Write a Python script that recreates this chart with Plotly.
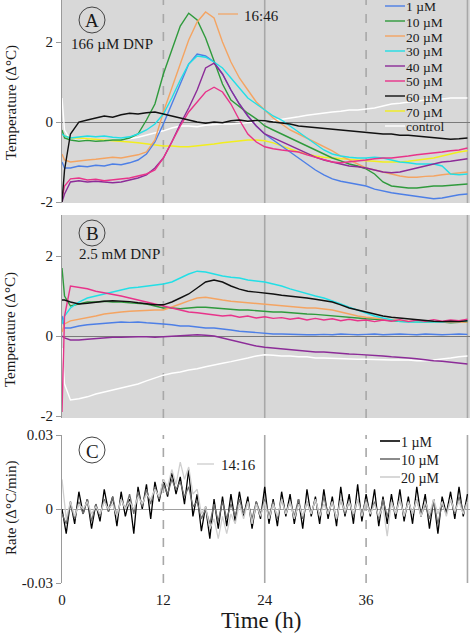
import plotly.graph_objects as go

# ---------------- data ----------------
HOURS_AB = [0, 0.3, 1, 2, 3, 4, 5, 6, 7, 8, 9, 10, 11, 12, 13, 14, 15, 16, 17, 18, 19, 20,
            21, 22, 23, 24, 25, 26, 27, 28, 29, 30, 31, 32, 33, 34, 35, 36, 37, 38, 39, 40,
            41, 42, 43, 44, 45, 46, 47, 48]

SERIES_NAMES = ["1 µM", "10 µM", "20 µM", "30 µM", "40 µM", "50 µM", "60 µM", "70 µM", "control"]
SERIES_COLORS = ["#4d7fe6", "#2f9a3c", "#f4a462", "#22dfe6", "#8c2c98", "#e8338a", "#111111", "#f2ee1e", "#ffffff"]

A_1uM = [-1.0, -1.15, -1.15, -1.1, -1.12, -1.08, -1.1, -1.05, -1.07, -1.02, -0.95, -0.8, -0.5, -0.05,
         0.45, 0.95, 1.45, 1.7, 1.65, 1.5, 1.2, 0.8, 0.45, 0.15, -0.1, -0.3, -0.45, -0.6, -0.75, -0.9,
         -1.05, -1.2, -1.32, -1.42, -1.48, -1.52, -1.55, -1.6, -1.68, -1.73, -1.77, -1.8, -1.83, -1.85,
         -1.88, -1.92, -1.9, -1.86, -1.82, -1.8]
A_10uM = [-0.2, -0.4, -0.45, -0.48, -0.46, -0.48, -0.47, -0.45, -0.45, -0.4, -0.3, 0.05, 0.45, 1.2,
          1.8, 2.4, 2.72, 2.55, 2.1, 1.5, 0.95, 0.55, 0.38, 0.22, 0.08, -0.1, -0.2, -0.3, -0.4, -0.5,
          -0.6, -0.7, -0.8, -0.9, -0.97, -1.05, -1.1, -1.17, -1.3, -1.5, -1.6, -1.63, -1.65, -1.65,
          -1.62, -1.6, -1.6, -1.58, -1.56, -1.55]
A_20uM = [-0.8, -0.95, -1.0, -0.97, -0.95, -0.93, -0.9, -0.88, -0.9, -0.86, -0.82, -0.75, -0.45, 0.25,
          0.85, 1.5, 2.05, 2.5, 2.75, 2.6, 2.0, 1.5, 1.1, 0.8, 0.5, 0.3, 0.1, -0.05, -0.2, -0.3, -0.4,
          -0.5, -0.6, -0.72, -0.85, -0.95, -1.05, -1.15, -1.2, -1.25, -1.3, -1.35, -1.38, -1.38, -1.36,
          -1.35, -1.32, -1.3, -1.28, -1.25]
A_30uM = [-0.3, -0.35, -0.4, -0.38, -0.35, -0.37, -0.35, -0.38, -0.4, -0.37, -0.3, -0.2, -0.05, 0.2,
          0.6, 1.05, 1.45, 1.65, 1.62, 1.5, 1.35, 1.1, 0.85, 0.6, 0.45, 0.3, 0.15, 0.05, -0.1, -0.25,
          -0.4, -0.55, -0.7, -0.8, -0.85, -0.88, -0.9, -0.9, -0.88, -0.9, -0.95, -1.0, -1.02, -1.05,
          -1.05, -1.05, -1.1, -1.3, -1.32, -1.3]
A_40uM = [-2.0, -1.8, -1.5, -1.47, -1.5, -1.48, -1.5, -1.52, -1.5, -1.45, -1.4, -1.32, -1.15, -0.9,
          -0.5, -0.05, 0.35, 0.8, 1.35, 1.47, 1.2, 0.8, 0.45, 0.15, -0.1, -0.3, -0.4, -0.5, -0.6, -0.7,
          -0.8, -0.88, -0.95, -1.0, -1.05, -1.1, -1.12, -1.15, -1.2, -1.25, -1.27, -1.25, -1.2, -1.15,
          -1.1, -1.05, -1.0, -0.98, -0.95, -0.92]
A_50uM = [-1.9, -1.6, -1.42, -1.4, -1.45, -1.43, -1.47, -1.45, -1.42, -1.4, -1.35, -1.3, -1.2, -0.9,
          -0.5, -0.1, 0.25, 0.5, 0.75, 0.87, 0.75, 0.45, 0.05, -0.3, -0.5, -0.62, -0.67, -0.7, -0.72,
          -0.75, -0.82, -0.88, -0.95, -1.0, -1.02, -1.0, -0.98, -0.95, -0.92, -0.9, -0.9, -0.88, -0.85,
          -0.82, -0.8, -0.78, -0.75, -0.72, -0.7, -0.65]
A_60uM = [-2.0, -1.2, -0.3, 0.0, 0.05, 0.1, 0.15, 0.12, 0.18, 0.22, 0.2, 0.23, 0.25, 0.2, 0.15, 0.1,
          0.05, 0.0, -0.03, 0.0, -0.02, 0.03, 0.05, 0.02, 0.04, 0.03, 0.0, -0.02, -0.05, -0.1, -0.12,
          -0.15, -0.17, -0.18, -0.2, -0.22, -0.25, -0.26, -0.28, -0.3, -0.3, -0.33, -0.33, -0.35,
          -0.37, -0.38, -0.4, -0.43, -0.42, -0.4]
A_70uM = [-0.3, -0.35, -0.4, -0.4, -0.42, -0.43, -0.45, -0.47, -0.48, -0.5, -0.52, -0.55, -0.57, -0.6,
          -0.6, -0.62, -0.62, -0.6, -0.58, -0.55, -0.52, -0.5, -0.48, -0.45, -0.45, -0.47, -0.52, -0.6,
          -0.68, -0.75, -0.8, -0.85, -0.88, -0.9, -0.92, -0.93, -0.95, -0.97, -0.98, -1.0, -1.0, -1.0,
          -0.98, -0.95, -0.92, -0.9, -0.85, -0.8, -0.75, -0.72]
A_control = [0.6, -0.2, -0.45, -0.47, -0.45, -0.46, -0.45, -0.44, -0.43, -0.42, -0.38, -0.33, -0.28,
             -0.22, -0.15, -0.1, -0.1, -0.12, -0.08, -0.06, -0.05, -0.05, -0.03, -0.02, 0.0, 0.0, 0.03,
             0.07, 0.1, 0.13, 0.17, 0.2, 0.23, 0.25, 0.27, 0.3, 0.3, 0.32, 0.35, 0.4, 0.45, 0.47, 0.5,
             0.52, 0.55, 0.55, 0.58, 0.6, 0.6, 0.6]

B_1uM = [0.5, 0.2, 0.2, 0.25, 0.28, 0.3, 0.32, 0.33, 0.35, 0.34, 0.35, 0.33, 0.32, 0.3, 0.28, 0.25,
         0.25, 0.22, 0.2, 0.2, 0.18, 0.15, 0.12, 0.1, 0.08, 0.06, 0.05, 0.05, 0.04, 0.04, 0.03, 0.03,
         0.04, 0.03, 0.05, 0.04, 0.03, 0.04, 0.05, 0.03, 0.04, 0.05, 0.04, 0.03, 0.05, 0.04, 0.03, 0.04,
         0.05, 0.04]
B_10uM = [1.7, 1.0, 0.75, 0.8, 0.85, 0.85, 0.87, 0.85, 0.85, 0.83, 0.82, 0.8, 0.75, 0.7, 0.7, 0.68,
          0.7, 0.72, 0.72, 0.7, 0.68, 0.67, 0.65, 0.65, 0.63, 0.62, 0.6, 0.6, 0.58, 0.56, 0.55, 0.54,
          0.52, 0.5, 0.48, 0.46, 0.45, 0.43, 0.42, 0.4, 0.38, 0.37, 0.36, 0.35, 0.35, 0.34, 0.35, 0.33,
          0.34, 0.35]
B_20uM = [0.1, 0.3, 0.38, 0.42, 0.45, 0.5, 0.55, 0.58, 0.6, 0.62, 0.63, 0.65, 0.65, 0.65, 0.72, 0.8,
          0.88, 0.95, 0.97, 0.93, 0.9, 0.87, 0.85, 0.83, 0.82, 0.8, 0.78, 0.75, 0.73, 0.72, 0.7, 0.7,
          0.68, 0.65, 0.6, 0.55, 0.5, 0.47, 0.45, 0.42, 0.4, 0.38, 0.37, 0.36, 0.35, 0.35, 0.34, 0.35,
          0.34, 0.35]
B_30uM = [0.3, 0.5, 0.7, 0.85, 0.95, 1.0, 1.05, 1.1, 1.15, 1.2, 1.22, 1.25, 1.27, 1.3, 1.35, 1.45,
          1.55, 1.62, 1.6, 1.55, 1.5, 1.47, 1.45, 1.4, 1.38, 1.35, 1.3, 1.25, 1.18, 1.12, 1.05, 1.0,
          0.95, 0.88, 0.8, 0.72, 0.65, 0.57, 0.5, 0.45, 0.4, 0.36, 0.35, 0.35, 0.35, 0.36, 0.35, 0.37,
          0.36, 0.38]
B_40uM = [0.0, -0.05, -0.1, -0.1, -0.08, -0.06, -0.05, -0.03, -0.03, -0.02, -0.02, -0.02, -0.03,
          -0.02, -0.01, 0.0, 0.02, 0.03, 0.02, 0.0, -0.05, -0.1, -0.15, -0.2, -0.25, -0.28, -0.3,
          -0.32, -0.35, -0.37, -0.38, -0.4, -0.4, -0.42, -0.43, -0.45, -0.46, -0.47, -0.49, -0.5,
          -0.52, -0.53, -0.55, -0.57, -0.6, -0.62, -0.63, -0.65, -0.68, -0.7]
B_50uM = [-1.9, 0.5, 1.25, 1.22, 1.18, 1.12, 1.08, 1.05, 1.0, 0.95, 0.9, 0.85, 0.8, 0.75, 0.7, 0.65,
          0.6, 0.58, 0.55, 0.52, 0.5, 0.52, 0.47, 0.5, 0.45, 0.48, 0.44, 0.46, 0.42, 0.45, 0.4, 0.44,
          0.4, 0.43, 0.38, 0.42, 0.38, 0.4, 0.36, 0.4, 0.37, 0.41, 0.36, 0.4, 0.37, 0.41, 0.37, 0.4,
          0.38, 0.42]
B_60uM = [0.9, 0.9, 0.85, 0.8, 0.82, 0.85, 0.87, 0.88, 0.87, 0.86, 0.83, 0.8, 0.78, 0.78, 0.85, 0.95,
          1.05, 1.2, 1.35, 1.4, 1.35, 1.25, 1.17, 1.12, 1.1, 1.08, 1.05, 1.02, 1.0, 0.97, 0.95, 0.92,
          0.88, 0.85, 0.78, 0.7, 0.65, 0.6, 0.55, 0.5, 0.47, 0.45, 0.42, 0.4, 0.38, 0.37, 0.36, 0.37,
          0.36, 0.38]
B_control = [-0.3, -1.2, -1.6, -1.57, -1.52, -1.45, -1.4, -1.35, -1.3, -1.25, -1.2, -1.12, -1.05,
             -0.98, -0.93, -0.9, -0.85, -0.82, -0.77, -0.72, -0.68, -0.64, -0.6, -0.55, -0.5, -0.47,
             -0.48, -0.5, -0.5, -0.52, -0.52, -0.55, -0.55, -0.56, -0.57, -0.58, -0.58, -0.58, -0.59,
             -0.6, -0.6, -0.6, -0.6, -0.62, -0.62, -0.6, -0.58, -0.55, -0.52, -0.5]

HOURS_C = [0, 0.5, 1, 1.5, 2, 2.5, 3, 3.5, 4, 4.5, 5, 5.5, 6, 6.5, 7, 7.5, 8, 8.5, 9, 9.5, 10, 10.5,
           11, 11.5, 12, 12.5, 13, 13.5, 14, 14.5, 15, 15.5, 16, 16.5, 17, 17.5, 18, 18.5, 19, 19.5,
           20, 20.5, 21, 21.5, 22, 22.5, 23, 23.5, 24, 24.5, 25, 25.5, 26, 26.5, 27, 27.5, 28, 28.5,
           29, 29.5, 30, 30.5, 31, 31.5, 32, 32.5, 33, 33.5, 34, 34.5, 35, 35.5, 36, 36.5, 37, 37.5,
           38, 38.5, 39, 39.5, 40, 40.5, 41, 41.5, 42, 42.5, 43, 43.5, 44, 44.5, 45, 45.5, 46, 46.5,
           47, 47.5, 48]
C_NAMES = ["1 µM", "10 µM", "20 µM"]
C_COLORS = ["#000000", "#6e6e6e", "#cfcfcf"]
C_1uM = [0.000, -0.010, 0.003, -0.006, 0.007, -0.002, 0.004, -0.008,
         0.002, -0.005, 0.008, -0.001, 0.005, -0.007, 0.007, -0.003,
         0.004, -0.010, 0.009, 0.000, 0.010, -0.004, 0.011, 0.003,
         0.012, 0.005, 0.015, 0.006, 0.013, 0.002, 0.016, -0.003,
         0.006, -0.009, 0.001, -0.012, 0.004, -0.008, 0.005, -0.007,
         0.006, -0.005, 0.007, -0.003, 0.005, -0.008, 0.003, -0.004,
         0.009, -0.006, 0.004, -0.007, 0.007, -0.003, 0.006, -0.006,
         0.004, -0.008, 0.008, -0.003, 0.005, -0.006, 0.008, -0.004,
         0.005, -0.007, 0.009, -0.003, 0.006, -0.006, 0.010, -0.005,
         0.006, -0.003, 0.008, -0.007, 0.005, -0.006, 0.006, -0.004,
         0.008, -0.005, 0.005, -0.006, 0.009, -0.003, 0.006, -0.008,
         0.004, -0.010, 0.005, -0.002, 0.007, -0.004, 0.009, -0.003,
         0.006]
C_10uM = [-0.002, -0.006, 0.002, -0.004, 0.003, -0.002, 0.004, -0.005,
          0.002, -0.003, 0.004, -0.001, 0.005, -0.003, 0.004, 0.000,
          0.006, -0.002, 0.007, 0.001, 0.008, 0.002, 0.009, 0.004,
          0.010, 0.006, 0.012, 0.008, 0.011, 0.005, 0.009, 0.001,
          0.003, -0.004, 0.000, -0.006, 0.002, -0.005, 0.003, -0.004,
          0.002, -0.003, 0.004, -0.002, 0.003, -0.004, 0.003, -0.002,
          0.004, -0.003, 0.003, -0.004, 0.004, -0.002, 0.003, -0.003,
          0.004, -0.004, 0.003, -0.002, 0.004, -0.003, 0.005, -0.002,
          0.003, -0.004, 0.004, -0.002, 0.003, -0.003, 0.004, -0.002,
          0.004, -0.002, 0.003, -0.004, 0.004, -0.003, 0.003, -0.002,
          0.004, -0.003, 0.003, -0.002, 0.004, -0.003, 0.002, -0.004,
          0.003, -0.006, 0.002, -0.002, 0.004, -0.002, 0.005, -0.001,
          0.003]
C_20uM = [0.012, -0.004, 0.003, -0.003, 0.002, 0.000, 0.003, -0.002,
          0.001, -0.002, 0.003, 0.000, 0.002, -0.003, 0.004, 0.000,
          0.003, 0.000, 0.005, 0.002, 0.006, 0.004, 0.008, 0.005,
          0.012, 0.009, 0.016, 0.010, 0.019, 0.012, 0.017, 0.006,
          0.008, -0.002, 0.001, -0.008, -0.004, -0.012, -0.003, -0.010,
          -0.002, -0.006, 0.002, -0.004, 0.003, -0.006, 0.002, -0.003,
          0.003, -0.004, 0.002, -0.003, 0.004, -0.002, 0.003, -0.004,
          0.002, -0.003, 0.003, -0.002, 0.004, -0.003, 0.002, -0.002,
          0.003, -0.004, 0.004, -0.001, 0.003, -0.002, 0.004, -0.003,
          0.003, -0.002, 0.002, -0.003, 0.001, -0.011, 0.003, -0.002,
          0.004, -0.003, 0.003, -0.002, 0.004, -0.003, 0.003, -0.002,
          0.004, -0.002, 0.003, -0.003, 0.004, -0.001, 0.003, -0.002,
          0.003]

GRID_HOURS = [12, 24, 36, 48]
GRID_DASH = ["dash", "solid", "dash", "solid"]
X_TICKS = [0, 12, 24, 36, 48]
Y_TICKS_T = [-2, 0, 2]
Y_TICKS_R = [-0.03, 0, 0.03]

A_SERIES = [A_1uM, A_10uM, A_20uM, A_30uM, A_40uM, A_50uM, A_60uM, A_70uM, A_control]
B_SERIES = [B_1uM, B_10uM, B_20uM, B_30uM, B_40uM, B_50uM, B_60uM, None, B_control]
C_SERIES = [C_1uM, C_10uM, C_20uM]
for s in A_SERIES + B_SERIES:
    assert s is None or len(s) == len(HOURS_AB), len(s)
for s in C_SERIES:
    assert len(s) == len(HOURS_C), len(s)

# ---------------- figure ----------------
W, H = 472, 637
FONT = "Liberation Serif, Times New Roman, serif"
TXT = "#1a1a1a"


def px(x):
    return x / W


def py(y):
    return 1 - y / H


fig = go.Figure()

DRAW_ORDER = [8, 7, 0, 1, 2, 3, 4, 5, 6]
for i in DRAW_ORDER:
    fig.add_trace(go.Scatter(x=HOURS_AB, y=A_SERIES[i], mode="lines", name=SERIES_NAMES[i],
                             line=dict(color=SERIES_COLORS[i], width=1.4),
                             xaxis="x", yaxis="y", showlegend=False, hoverinfo="skip"))
for i in DRAW_ORDER:
    if B_SERIES[i] is None:
        continue
    fig.add_trace(go.Scatter(x=HOURS_AB, y=B_SERIES[i], mode="lines", name=SERIES_NAMES[i],
                             line=dict(color=SERIES_COLORS[i], width=1.4),
                             xaxis="x2", yaxis="y2", showlegend=False, hoverinfo="skip"))
for i in range(3):
    fig.add_trace(go.Scatter(x=HOURS_C, y=C_SERIES[i], mode="lines", name=C_NAMES[i],
                             line=dict(color=C_COLORS[i], width=1.3),
                             xaxis="x3", yaxis="y3", showlegend=False, hoverinfo="skip"))

XDOM = [px(62), px(470)]
XRANGE = [0, 48.3]
common_x = dict(domain=XDOM, range=XRANGE, showgrid=False, zeroline=False, showline=False,
                automargin=False)
common_y = dict(showgrid=False, showline=True, linecolor="#9a9a9a", linewidth=1,
                ticks="outside", ticklen=5, tickcolor="#9a9a9a", automargin=False,
                tickfont=dict(family=FONT, size=15, color=TXT), zeroline=True,
                zerolinecolor="#7a7a7a", zerolinewidth=1)

fig.update_layout(
    width=W, height=H, autosize=False,
    margin=dict(l=0, r=0, t=0, b=0, pad=0),
    paper_bgcolor="white", plot_bgcolor="white",
    font=dict(family=FONT, color=TXT),
    xaxis=dict(anchor="y", showticklabels=False, ticks="", **common_x),
    xaxis2=dict(anchor="y2", showticklabels=False, ticks="", **common_x),
    xaxis3=dict(anchor="y3", tickvals=X_TICKS, ticktext=[str(v) for v in X_TICKS], ticks="",
                tickfont=dict(family=FONT, size=15, color=TXT), ticklabelstandoff=6, **common_x),
    yaxis=dict(anchor="x", domain=[py(203), py(0)], range=[-2.025, 3.05],
               tickvals=Y_TICKS_T, ticktext=["-2", "0", "2"], **common_y),
    yaxis2=dict(anchor="x2", domain=[py(418), py(215)], range=[-2.05, 3.025],
                tickvals=Y_TICKS_T, ticktext=["-2", "0", "2"], **common_y),
    yaxis3=dict(anchor="x3", domain=[py(583), py(435)], range=[-0.03, 0.03],
                tickvals=Y_TICKS_R, ticktext=["-0.03", "0", "0.03"],
                **{**common_y, "zerolinecolor": "#a0a0a0"}),
)

shapes = []
# gray panel backgrounds for A and B
for xr, yr in [("x", "y"), ("x2", "y2")]:
    shapes.append(dict(type="rect", xref=xr + " domain", yref=yr + " domain", x0=0, x1=1, y0=0, y1=1,
                       fillcolor="#d8d8d8", line=dict(width=0), layer="below"))
# vertical reference lines
for xr, yr in [("x", "y"), ("x2", "y2"), ("x3", "y3")]:
    for h, d in zip(GRID_HOURS, GRID_DASH):
        shapes.append(dict(type="line", xref=xr, yref=yr + " domain", x0=h, x1=h, y0=0, y1=1,
                           line=dict(color="#a8a8a8", width=1.6, dash=d), layer="below"))

annotations = []
# circled panel letters and labels
for letter, cy in [("A", 20), ("B", 233), ("C", 450)]:
    shapes.append(dict(type="circle", xref="paper", yref="paper",
                       x0=px(79), x1=px(105), y0=py(cy + 13), y1=py(cy - 13),
                       line=dict(color="#444444", width=1), layer="above"))
    annotations.append(dict(text=letter, x=px(92), y=py(cy + 1), xref="paper", yref="paper",
                            showarrow=False, xanchor="center", yanchor="middle",
                            font=dict(family=FONT, size=19, color=TXT)))
annotations.append(dict(text="166 µM DNP", x=px(112), y=py(44), xref="paper", yref="paper",
                        showarrow=False, xanchor="center", yanchor="middle",
                        font=dict(family=FONT, size=15, color=TXT)))
annotations.append(dict(text="2.5 mM DNP", x=px(119), y=py(254), xref="paper", yref="paper",
                        showarrow=False, xanchor="center", yanchor="middle",
                        font=dict(family=FONT, size=15, color=TXT)))

# axis titles
for txt, cy in [("Temperature (Δ°C)", 103), ("Temperature (Δ°C)", 330), ("Rate (Δ°C/min)", 508)]:
    annotations.append(dict(text=txt, x=px(11), y=py(cy), xref="paper", yref="paper",
                            showarrow=False, textangle=-90, xanchor="center", yanchor="middle",
                            font=dict(family=FONT, size=15, color=TXT)))
annotations.append(dict(text="Time (h)", x=px(261), y=py(620), xref="paper", yref="paper",
                        showarrow=False, xanchor="center", yanchor="middle",
                        font=dict(family=FONT, size=23, color=TXT)))

# peak time labels
shapes.append(dict(type="line", xref="paper", yref="paper", x0=px(218), x1=px(238), y0=py(14), y1=py(14),
                   line=dict(color=SERIES_COLORS[2], width=1.2)))
annotations.append(dict(text="16:46", x=px(242), y=py(16), xref="paper", yref="paper", showarrow=False,
                        xanchor="left", yanchor="middle", font=dict(family=FONT, size=15, color=TXT)))
shapes.append(dict(type="line", xref="paper", yref="paper", x0=px(197), x1=px(214), y0=py(464), y1=py(464),
                   line=dict(color="#c8c8c8", width=1.2)))
annotations.append(dict(text="14:16", x=px(219), y=py(465), xref="paper", yref="paper", showarrow=False,
                        xanchor="left", yanchor="middle", font=dict(family=FONT, size=15, color=TXT)))

# legend for panel A
for i, (nm, col) in enumerate(zip(SERIES_NAMES, SERIES_COLORS)):
    yy = 6 + 15 * i
    shapes.append(dict(type="line", xref="paper", yref="paper", x0=px(385), x1=px(405),
                       y0=py(yy), y1=py(yy), line=dict(color=col, width=1.4)))
    annotations.append(dict(text=nm, x=px(405), y=py(yy + 1), xref="paper", yref="paper", showarrow=False,
                            xanchor="left", yanchor="middle", borderpad=0,
                            font=dict(family=FONT, size=13.5, color=TXT)))
# legend for panel C
for i, (nm, col) in enumerate(zip(C_NAMES, C_COLORS)):
    yy = 441 + 18 * i
    shapes.append(dict(type="line", xref="paper", yref="paper", x0=px(380), x1=px(400),
                       y0=py(yy), y1=py(yy), line=dict(color=col, width=1.6)))
    annotations.append(dict(text=nm, x=px(400), y=py(yy + 1), xref="paper", yref="paper", showarrow=False,
                            xanchor="left", yanchor="middle", borderpad=0,
                            font=dict(family=FONT, size=14, color=TXT)))

fig.update_layout(shapes=shapes, annotations=annotations)
fig.write_html("out.html", config={"displayModeBar": False},
               post_script="document.body.style.margin='0';document.body.style.padding='0';")
